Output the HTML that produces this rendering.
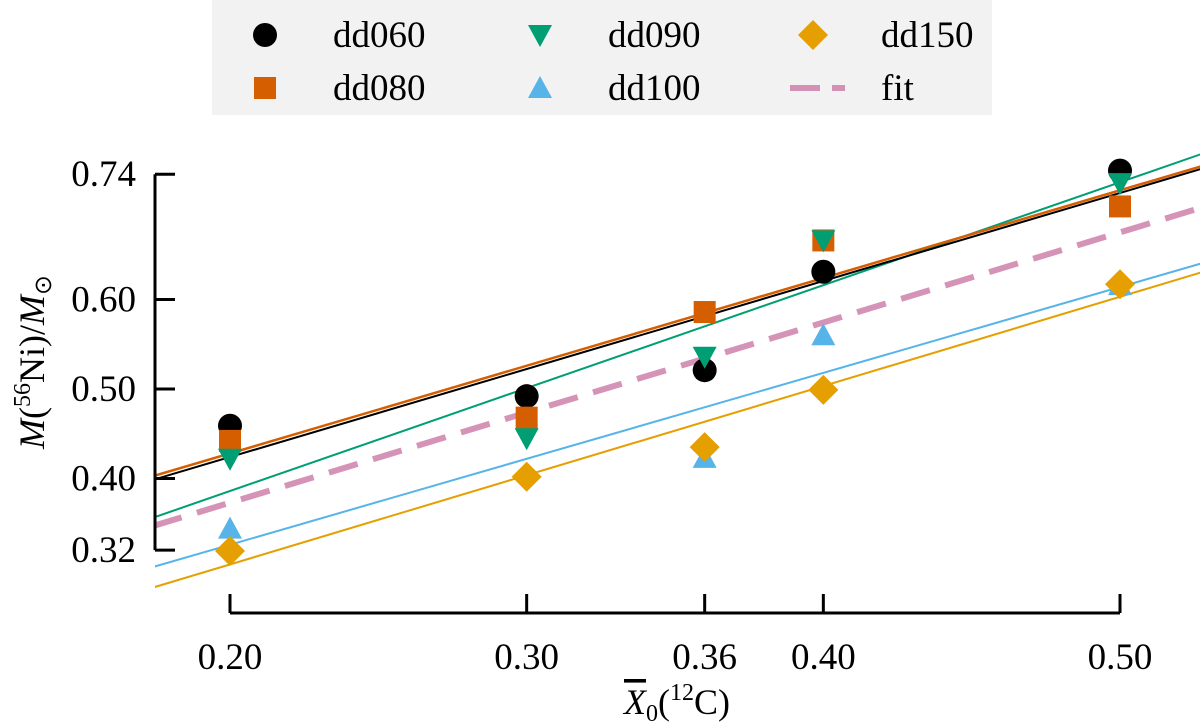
<!DOCTYPE html>
<html><head><meta charset="utf-8"><style>
body{margin:0;background:#fff}
svg text{font-family:"Liberation Serif",serif;fill:#000}
</style></head><body>
<svg id="chart" width="1200" height="723" viewBox="0 0 1200 723">
<defs><clipPath id="clip"><rect x="155" y="120" width="1045" height="480"/></clipPath></defs>
<rect x="212" y="0" width="780" height="115" fill="#f2f2f2"/>
<g id="legend"></g>
<g id="lines" clip-path="url(#clip)"></g>
<g id="marks"></g>
<g id="axes"></g>
<text x="0" y="0" font-size="36" text-anchor="middle" transform="translate(44,362) rotate(-90)"><tspan font-style="italic">M</tspan>(<tspan font-size="24" dy="-14">56</tspan><tspan dy="14">Ni)/</tspan><tspan font-style="italic">M</tspan><tspan font-size="24" dy="7">⊙</tspan></text>
<text x="677" y="714" font-size="36" text-anchor="middle"><tspan font-style="italic" text-decoration="overline">X</tspan><tspan font-size="24" dy="7">0</tspan><tspan dy="-7">(</tspan><tspan font-size="24" dy="-14">12</tspan><tspan dy="14">C)</tspan></text>
</svg>
<script>
const xTicks=[0.20,0.30,0.36,0.40,0.50];
const xTickLabels=["0.20","0.30","0.36","0.40","0.50"];
const yTicks=[0.32,0.40,0.50,0.60,0.74];
const yTickLabels=["0.32","0.40","0.50","0.60","0.74"];
const xVals=[0.20,0.30,0.36,0.40,0.50];
const dd060=[0.459,0.492,0.521,0.631,0.744];
const dd080=[0.442,0.468,0.586,0.666,0.704];
const dd090=[0.422,0.445,0.536,0.666,0.730];
const dd100=[0.344,null,0.423,0.560,0.616];
const dd150=[0.319,0.402,0.435,0.499,0.617];
const fitDd060=[0.424,0.719];
const fitDd080=[0.428,0.722];
const fitDd090=[0.386,0.731];
const fitDd100=[0.326,0.614];
const fitDd150=[0.304,0.603];
const fitAll=[0.373,0.675];
const fitX=[0.20,0.50];

const NS="http://www.w3.org/2000/svg";
const xs=v=>230+(v-0.2)*2966.7;
const ys=v=>389-(v-0.5)*895;
function mk(t,a,p){const e=document.createElementNS(NS,t);for(const k in a)e.setAttribute(k,a[k]);p.appendChild(e);return e;}
const axes=document.getElementById('axes');
let ya=mk('line',{x1:155,x2:155,y1:ys(0.74),y2:ys(0.32),stroke:'#000','stroke-width':3},axes);


yTicks.forEach((v,i)=>{
 const t=mk('line',{x1:155,x2:175,y1:ys(v),y2:ys(v),stroke:'#000','stroke-width':3},axes);
 
 
 const l=mk('text',{x:136,y:ys(v)+12,'font-size':37,'text-anchor':'end'},axes);
 l.textContent=yTickLabels[i];
 
 
});
let xa=mk('line',{x1:xs(0.2),x2:xs(0.5),y1:613,y2:613,stroke:'#000','stroke-width':3},axes);


xTicks.forEach((v,i)=>{
 const t=mk('line',{x1:xs(v),x2:xs(v),y1:613,y2:594,stroke:'#000','stroke-width':3},axes);
 
 
 const l=mk('text',{x:xs(v),y:669,'font-size':37,'text-anchor':'middle'},axes);
 l.textContent=xTickLabels[i];
 
 
});
const lg=document.getElementById('lines');
function fitLine(vals,color,w,dash,name,op){
 const sl=(vals[1]-vals[0])/(fitX[1]-fitX[0]);
 const x0=0.174,x1=0.55;
 const e=mk('line',{x1:xs(x0),x2:xs(x1),y1:ys(vals[0]+sl*(x0-fitX[0])),y2:ys(vals[0]+sl*(x1-fitX[0])),stroke:color,'stroke-width':w},lg);
 if(dash)e.setAttribute('stroke-dasharray',dash);
 if(op)e.setAttribute('opacity',op);
 
 
}
fitLine(fitDd150,'#e69f00',2,null,'fit-line-dd150');
fitLine(fitDd100,'#56b4e9',2,null,'fit-line-dd100');
fitLine(fitDd090,'#009e73',2,null,'fit-line-dd090');
fitLine(fitDd080,'#d55e00',2.5,null,'fit-line-dd080');
fitLine(fitDd060,'#000',2,null,'fit-line-dd060');
fitLine(fitAll,'#cc79a7',6,'30,16','fit-line-all',0.8);
const mg=document.getElementById('marks');
function marker(type,x,y,color,p){
 let e;
 if(type==='circle')e=mk('circle',{cx:x,cy:y,r:12,fill:color},p);
 else if(type==='square')e=mk('rect',{x:x-11,y:y-11,width:22,height:22,fill:color},p);
 else if(type==='down')e=mk('polygon',{points:`${x-12},${y-10} ${x+12},${y-10} ${x},${y+12}`,fill:color},p);
 else if(type==='up')e=mk('polygon',{points:`${x-12},${y+10} ${x+12},${y+10} ${x},${y-12}`,fill:color},p);
 else e=mk('polygon',{points:`${x},${y-15} ${x+15},${y} ${x},${y+15} ${x-15},${y}`,fill:color},p);
 return e;
}
const series=[[dd060,'circle','#000','dd060'],[dd080,'square','#d55e00','dd080'],[dd090,'down','#009e73','dd090'],[dd100,'up','#56b4e9','dd100'],[dd150,'diamond','#e69f00','dd150']];
series.forEach(s=>{
 s[0].forEach((v,i)=>{
  if(v===null)return;
  const e=marker(s[1],xs(xVals[i]),ys(v),s[2],mg);
  
  
 });
});
const lgd=document.getElementById('legend');
const items=[['circle','#000','dd060',265,35],['square','#d55e00','dd080',265,88],['down','#009e73','dd090',540,35],['up','#56b4e9','dd100',540,88],['diamond','#e69f00','dd150',813,35]];
items.forEach(it=>{
 const m=marker(it[0],it[3],it[4],it[1],lgd);
 
 
 const t=mk('text',{x:it[3]+68,y:it[4]+12,'font-size':37},lgd);
 t.textContent=it[2];
 
 
});
const fl=mk('line',{x1:790,x2:845,y1:88,y2:88,stroke:'#cc79a7','stroke-width':6,'stroke-dasharray':'30,12',opacity:0.8},lgd);


const ft=mk('text',{x:881,y:100,'font-size':37},lgd);
ft.textContent='fit';


</script>
</body></html>
